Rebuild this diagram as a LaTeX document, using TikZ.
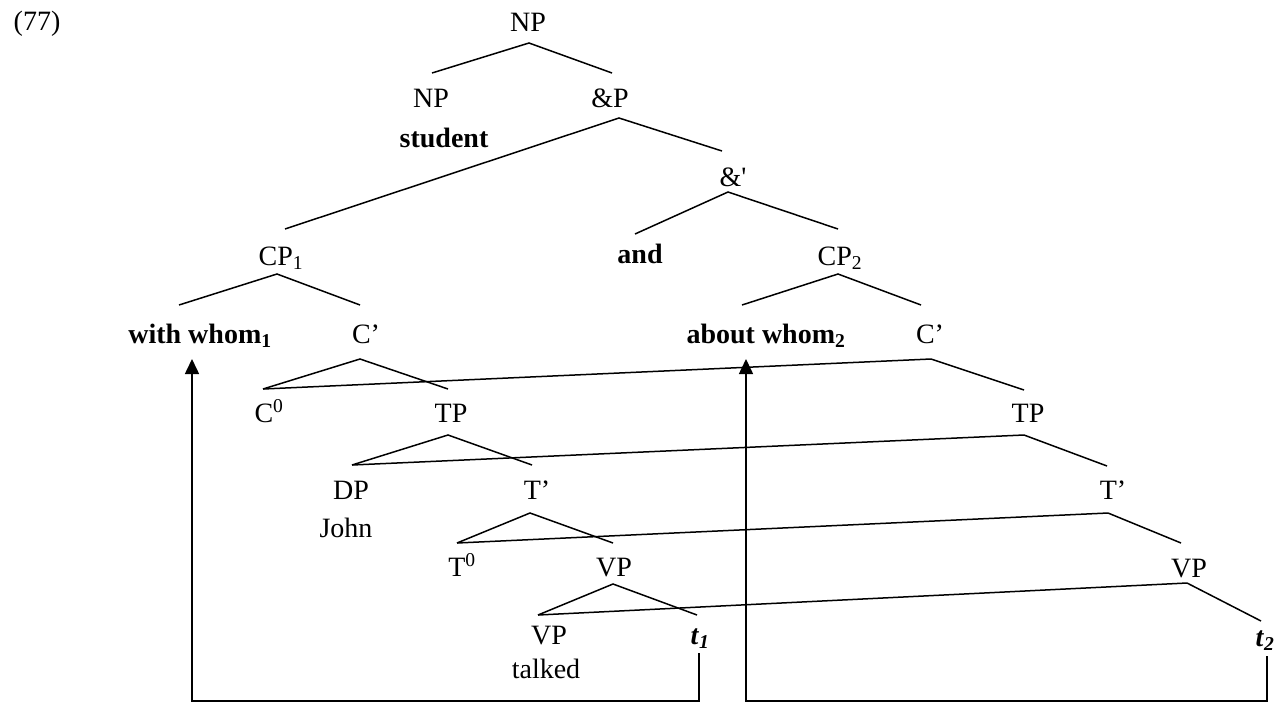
\documentclass[tikz,border=0pt]{standalone}
\usepackage{fontspec}
\setmainfont{Liberation Serif}
\newfontfamily\plainquote{Liberation Serif}
\usetikzlibrary{arrows.meta}
\begin{document}
\begin{tikzpicture}[x=1pt,y=-1pt,
  lab/.style={anchor=base,inner sep=0pt,font=\fontsize{28}{32}\selectfont},
  blab/.style={lab,font=\fontsize{28}{32}\selectfont\bfseries},
  branch/.style={line width=1.5pt,line cap=butt,line join=miter},
  move/.style={line width=1.6pt,line join=miter,-{Triangle[length=15pt,width=14pt]}}]
\useasboundingbox (0,0) rectangle (1282,702);
% labels
\node[lab] (ex) at (37,30) {(77)};
\node[lab] (np0) at (528,31) {NP};
\node[lab] (np1) at (431,107) {NP};
\node[lab] (andP) at (610,107) {\&P};
\node[blab] (student) at (444,147) {student};
\node[lab] (andbar) at (733,186) {{\plainquote\&'}};
\node[lab] (cp1) at (281,265) {CP\textsubscript{1}};
\node[blab] (and) at (640,263) {and};
\node[lab] (cp2) at (840,265) {CP\textsubscript{2}};
\node[blab] (wh1) at (200,343) {with whom\textsubscript{1}};
\node[lab] (cb1) at (366,343) {C’};
\node[blab] (wh2) at (766,343) {about whom\textsubscript{2}};
\node[lab] (cb2) at (930,343) {C’};
\node[lab] (c0) at (269,422) {C\textsuperscript{0}};
\node[lab] (tp1) at (451,422) {TP};
\node[lab] (tp2) at (1028,422) {TP};
\node[lab] (dp) at (351,499) {DP};
\node[lab] (tb1) at (537,499) {T’};
\node[lab] (tb2) at (1113,499) {T’};
\node[lab] (john) at (346,537) {John};
\node[lab] (t0) at (462,576) {T\textsuperscript{0}};
\node[lab] (vp1) at (614,576) {VP};
\node[lab] (vp2) at (1189,577) {VP};
\node[lab] (vpl) at (549,644) {VP};
\node[lab] (tr1) at (700,644) {\textbf{\textit{t}\textsubscript{\textit{1}}}};
\node[lab] (tr2) at (1265,646) {\textbf{\textit{t}\textsubscript{\textit{2}}}};
\node[lab] (talked) at (546,678) {talked};
% branch points (apex below a label, top above a label)
\coordinate (np0-a) at (529,43);
\coordinate (np1-t) at (432,73);
\coordinate (andP-t) at (612,73);
\coordinate (andP-a) at (619,118);
\coordinate (cp1-t) at (285,229);
\coordinate (andbar-t) at (722,151);
\coordinate (andbar-a) at (728,192);
\coordinate (and-t) at (635,234);
\coordinate (cp2-t) at (838,229);
\coordinate (cp1-a) at (277,274);
\coordinate (wh1-t) at (179,305);
\coordinate (cb1-t) at (360,305);
\coordinate (cp2-a) at (838,274);
\coordinate (wh2-t) at (742,305);
\coordinate (cb2-t) at (921,305);
\coordinate (cb1-a) at (360,359);
\coordinate (cb2-a) at (931,359);
\coordinate (c0-t) at (263,389);
\coordinate (tp1-t) at (448,389);
\coordinate (tp2-t) at (1024,390);
\coordinate (tp1-a) at (448,435);
\coordinate (tp2-a) at (1024,435);
\coordinate (dp-t) at (352,465);
\coordinate (tb1-t) at (532,465);
\coordinate (tb2-t) at (1107,466);
\coordinate (tb1-a) at (530,513);
\coordinate (tb2-a) at (1108,513);
\coordinate (t0-t) at (457,543);
\coordinate (vp1-t) at (613,543);
\coordinate (vp2-t) at (1181,543);
\coordinate (vp1-a) at (613,584);
\coordinate (vp2-a) at (1187,583);
\coordinate (vpl-t) at (538,615);
\coordinate (tr1-t) at (697,615);
\coordinate (tr2-t) at (1261,621);
% branches
\draw[branch] (np1-t) -- (np0-a) -- (andP-t);
\draw[branch] (cp1-t) -- (andP-a) -- (andbar-t);
\draw[branch] (and-t) -- (andbar-a) -- (cp2-t);
\draw[branch] (wh1-t) -- (cp1-a) -- (cb1-t);
\draw[branch] (wh2-t) -- (cp2-a) -- (cb2-t);
\draw[branch] (c0-t) -- (cb1-a) -- (tp1-t);
\draw[branch] (c0-t) -- (cb2-a) -- (tp2-t);
\draw[branch] (dp-t) -- (tp1-a) -- (tb1-t);
\draw[branch] (dp-t) -- (tp2-a) -- (tb2-t);
\draw[branch] (t0-t) -- (tb1-a) -- (vp1-t);
\draw[branch] (t0-t) -- (tb2-a) -- (vp2-t);
\draw[branch] (vpl-t) -- (vp1-a) -- (tr1-t);
\draw[branch] (vpl-t) -- (vp2-a) -- (tr2-t);
% movement arrows
\coordinate (tr1-b) at (699,653);
\coordinate (tr2-b) at (1267,656);
\coordinate (wh1-b) at (192,359);
\coordinate (wh2-b) at (746,359);
\draw[move] (tr1-b) |- (192,701) -- (wh1-b);
\draw[move] (tr2-b) |- (746,701) -- (wh2-b);
\end{tikzpicture}
\end{document}
